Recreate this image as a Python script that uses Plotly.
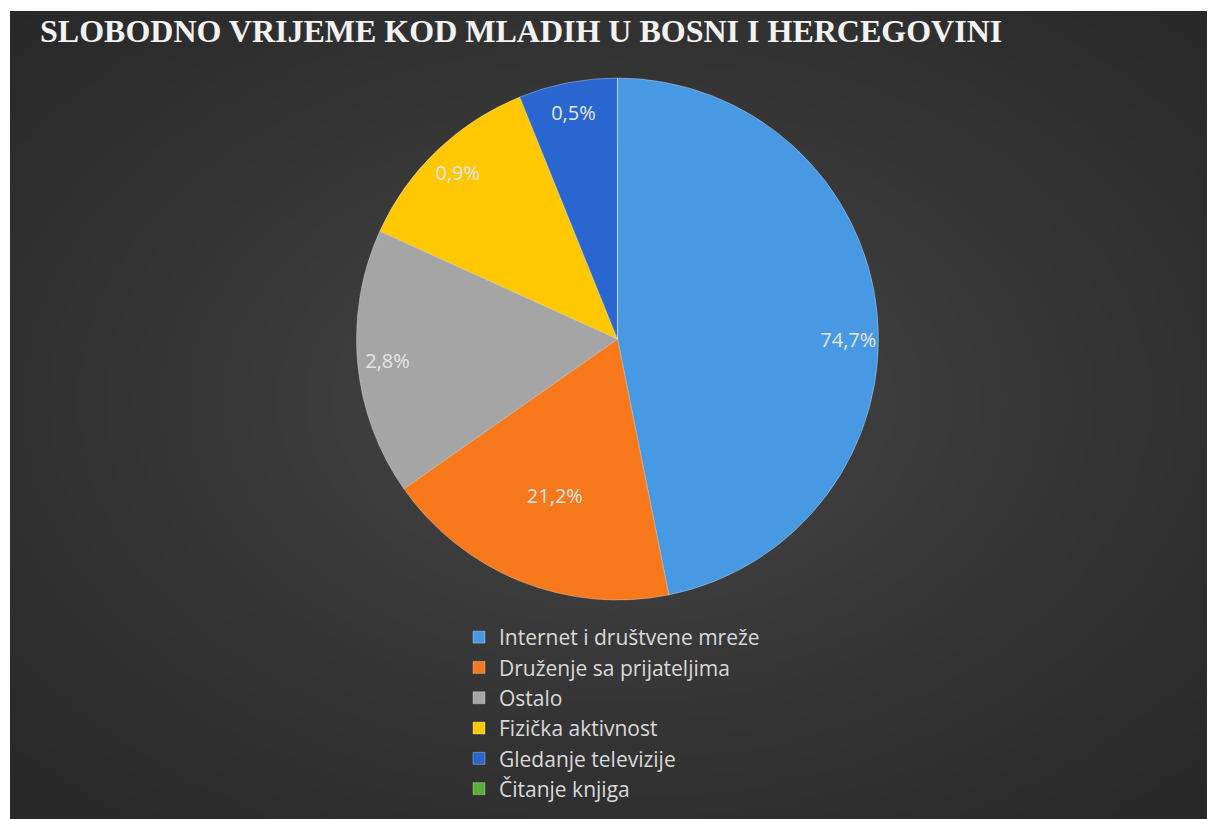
import base64, struct, zlib
import numpy as np
import plotly.graph_objects as go

# ---- data ----
categories = ["Internet i društvene mreže", "Druženje sa prijateljima", "Ostalo",
              "Fizička aktivnost", "Gledanje televizije", "Čitanje knjiga"]
slice_values = [46.8, 18.4, 16.5, 12.1, 6.1, 0.0]
label_texts = ["74,7%", "21,2%", "2,8%", "0,9%", "0,5%", ""]
colors = ["#4699E2", "#F7791C", "#A5A5A5", "#FFC800", "#2A66D0", "#5AAE3C"]
title_text = "SLOBODNO VRIJEME KOD MLADIH U BOSNI I HERCEGOVINI"
# which labels sit near the rim (outer ring) vs. in the middle of the slice
rim_label = [True, False, True, True, True, False]

OFF = 8  # page body margin
W, H = 1215 - OFF, 819 - OFF

def px(x):
    return (x - OFF) / W

def py(y):
    return 1 - (y - OFF) / H

# ---- background gradient image (style only) ----
def make_png(arr):
    h, w, _ = arr.shape
    raw = b"".join(b"\x00" + arr[i].tobytes() for i in range(h))
    def chunk(t, d):
        c = struct.pack(">I", len(d)) + t + d
        return c + struct.pack(">I", zlib.crc32(t + d) & 0xffffffff)
    png = b"\x89PNG\r\n\x1a\n"
    png += chunk(b"IHDR", struct.pack(">IIBBBBB", w, h, 8, 2, 0, 0, 0))
    png += chunk(b"IDAT", zlib.compress(raw, 9))
    png += chunk(b"IEND", b"")
    return "data:image/png;base64," + base64.b64encode(png).decode()

gw, gh = 241, 161
yy, xx = np.mgrid[0:gh, 0:gw]
cx, cy = gw * 0.5, gh * 0.48
d = np.sqrt(((xx - cx) / (gw / 2)) ** 2 + ((yy - cy) / (gh / 2)) ** 2) / np.sqrt(2)
d = np.clip(d, 0, 1)
c_in, c_out = 70, 40
val = (c_in + (c_out - c_in) * d).astype(np.uint8)
img = np.stack([val, val, val], axis=-1)
bg_src = make_png(img)

# ---- figure ----
cxp, cyp, R = 617.5, 339.0, 261.0
dom = dict(x=[px(cxp - R), px(cxp + R)], y=[py(cyp + R), py(cyp - R)])
lab_font = dict(family="Open Sans, Lato, sans-serif", size=20, color="#E6E6E6")

main_text = [t if not r else "" for t, r in zip(label_texts, rim_label)]
rim_text = [t if r else "" for t, r in zip(label_texts, rim_label)]

fig = go.Figure()
fig.add_trace(go.Pie(
    labels=categories,
    values=slice_values,
    text=main_text,
    textinfo="text",
    textposition="inside",
    insidetextorientation="horizontal",
    insidetextfont=lab_font,
    sort=False,
    direction="clockwise",
    rotation=0,
    marker=dict(colors=colors, line=dict(color="rgba(255,255,255,0.3)", width=1)),
    domain=dom,
    hovertext=label_texts,
    hoverinfo="label+text",
))
# transparent ring overlay only used to place the rim labels
fig.add_trace(go.Pie(
    labels=categories,
    values=slice_values,
    text=rim_text,
    textinfo="text",
    textposition="inside",
    insidetextorientation="horizontal",
    insidetextfont=lab_font,
    hole=0.77,
    sort=False,
    direction="clockwise",
    rotation=0,
    marker=dict(colors=["rgba(0,0,0,0)"] * len(categories), line=dict(width=0)),
    domain=dom,
    showlegend=False,
    hoverinfo="skip",
))

fig.update_layout(
    width=W, height=H,
    margin=dict(l=0, r=0, t=0, b=0),
    paper_bgcolor="white",
    images=[dict(source=bg_src, xref="paper", yref="paper",
                 x=px(10), y=py(11), sizex=(1213 - 10) / W, sizey=(819 - 11) / H,
                 xanchor="left", yanchor="top", sizing="stretch", layer="below")],
    title=dict(text="<b>" + title_text + "</b>", x=px(40), xanchor="left",
               y=py(31), yanchor="middle",
               font=dict(family="Liberation Serif, Times New Roman, serif", size=32, color="#F2F2F2")),
    showlegend=True,
    legend=dict(x=px(459), y=py(617), xanchor="left", yanchor="top",
                font=dict(family="Open Sans, Lato, sans-serif", size=21, color="#D9D9D9"),
                bgcolor="rgba(0,0,0,0)", itemclick=False, tracegroupgap=0),
)

fig.write_html("out.html")
